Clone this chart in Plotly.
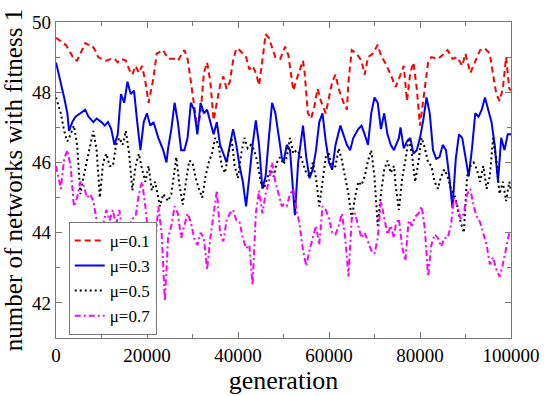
import plotly.graph_objects as go

# ---- data ----
gen_01 = [0, 2140, 2860, 3930, 4640, 5360, 6430, 7140, 7850, 8570, 9280, 10000, 11070, 12140, 12850,
          13570, 14280, 15350, 16070, 16780, 17500, 18210, 18920, 19640, 20350, 21420, 22130, 23560,
          24630, 26070, 26780, 28210, 28920, 29640, 30350, 31070, 31780, 32500, 33210, 33920, 34640,
          35350, 36060, 36780, 37490, 38210, 38920, 39630, 40350, 41060, 41780, 42490, 43200, 43920,
          44630, 45350, 46060, 46780, 47490, 48210, 49270, 50360, 51080, 51790, 52150, 53220, 54290,
          54650, 55360, 56070, 56790, 57500, 58220, 59290, 60000, 60710, 61430, 62140, 63210, 63930,
          64280, 65000, 66070, 67140, 67850, 68570, 69640, 70710, 71420, 72500, 73570, 74640, 75720,
          76430, 77140, 77860, 78570, 79290, 80000, 80710, 81780, 82500, 83930, 85350, 86070, 87140,
          88210, 89280, 89990, 91070, 92140, 93210, 94280, 95350, 96060, 96780, 97490, 98210, 98920,
          99630, 100000]
val_01 = [49.55, 49.35, 49.2, 48.95, 48.9, 49.1, 49.4, 49.35, 49.35, 49.2, 49.0, 48.95, 48.9, 48.95, 48.95,
          48.85, 48.95, 48.9, 48.65, 48.5, 48.75, 48.55, 48.75, 48.3, 47.7, 48.4, 49.1, 49.2,
          48.95, 48.95, 48.9, 49.2, 48.95, 48.3, 47.6, 46.95, 47.4, 48.55, 48.85, 48.3, 47.2,
          47.75, 48.2, 48.45, 48.1, 48.3, 48.9, 49.25, 49.2, 49.1, 49.0, 48.65, 48.75, 48.55,
          48.2, 48.9, 49.65, 49.55, 49.3, 49.0, 48.95, 49.3, 49.05, 48.3, 48.05, 48.5, 48.9,
          48.55, 47.4, 47.25, 47.6, 48.1, 47.75, 47.4, 47.85, 48.3, 48.5, 48.1, 47.7, 47.5,
          48.3, 49.2, 49.1, 48.9, 48.5, 49.0, 49.1, 49.35, 49.05, 48.8, 48.5, 48.15, 48.5,
          48.75, 47.75, 48.55, 48.85, 48.1, 47.05, 47.75, 48.85, 49.0, 48.95, 49.1, 49.2, 48.95,
          49.0, 48.75, 49.1, 48.55, 48.9, 49.2, 49.25, 49.1, 48.5, 47.95, 47.75, 48.1, 49.0,
          48.1, 48.05]

gen_03 = [0, 1070, 1790, 2500, 2860, 3570, 4280, 5360, 6430, 7140, 8210, 8930, 10000, 10710, 11420,
          12140, 12850, 13570, 14280, 14990, 15710, 16420, 17140, 17850, 18560, 19280, 19990, 20710,
          21420, 22490, 23560, 24280, 24640, 25350, 26070, 26780, 27500, 28210, 28920, 29640, 30350,
          31070, 31780, 32500, 33210, 33920, 34640, 35350, 36060, 36780, 37490, 38210, 38920, 39630,
          40350, 41060, 41780, 42490, 43200, 43920, 44630, 45350, 46060, 46780, 47490, 48210, 48920,
          49630, 50000, 50720, 51430, 52500, 53220, 54290, 55000, 55720, 56430, 57150, 57860, 58570,
          59290, 60000, 60710, 61430, 62500, 63210, 63930, 64640, 65350, 66430, 67140, 67850, 68570,
          69280, 70000, 70710, 71420, 72140, 72850, 73570, 74280, 75360, 75720, 76430, 77140, 77860,
          78570, 79290, 80000, 80710, 81430, 82140, 82860, 83570, 84280, 85000, 85710, 86430, 87140,
          87860, 88570, 89280, 90000, 90710, 91430, 92140, 92850, 93570, 94280, 95000, 95710, 96420,
          97140, 97850, 98570, 99280, 100000]
val_03 = [48.85, 48.3, 47.85, 47.4, 46.9, 47.15, 47.3, 47.4, 47.5, 47.3, 47.15, 47.25, 47.15, 47.05, 47.15,
          46.95, 46.5, 46.8, 47.95, 47.7, 48.3, 47.95, 48.05, 47.15, 46.35, 47.15, 47.4, 47.05,
          47.15, 46.7, 46.35, 46.0, 46.4, 46.95, 47.7, 47.15, 46.35, 46.35, 46.7, 47.7, 47.5,
          46.8, 47.7, 47.4, 47.5, 47.15, 46.8, 47.15, 46.5, 46.25, 46.0, 46.5, 46.95, 46.5,
          45.9, 45.45, 44.75, 45.6, 46.5, 47.2, 46.5, 45.25, 45.6, 46.7, 47.7, 47.4, 46.7,
          46.15, 46.0, 46.5, 46.35, 44.5, 46.0, 47.05, 46.15, 45.55, 45.8, 46.35, 47.15, 47.4,
          46.6, 46.0, 45.8, 46.5, 47.05, 46.8, 46.5, 46.35, 46.7, 46.95, 47.05, 46.8, 46.5,
          47.4, 47.85, 47.7, 46.95, 47.4, 46.8, 46.5, 46.35, 46.7, 47.0, 46.4, 46.6, 46.7,
          46.25, 46.35, 46.7, 47.2, 47.85, 47.4, 46.35, 46.1, 46.15, 46.5, 46.35, 45.6, 44.7,
          46.1, 46.8, 46.7, 46.15, 45.6, 46.4, 47.4, 47.3, 47.5, 47.85, 47.5, 47.15, 46.5,
          45.45, 46.7, 46.35, 46.8, 46.8]

gen_05 = [0, 1070, 1790, 2500, 3210, 3930, 4640, 5360, 6070, 6780, 7500, 8210, 8930, 9640, 10350,
          11070, 11780, 12500, 13210, 13920, 14640, 15350, 16070, 16780, 17490, 18210, 18920, 19640,
          20350, 21060, 21780, 22850, 23560, 24630, 25350, 26070, 26430, 27140, 27850, 28570, 29280,
          29990, 30710, 31420, 32140, 32850, 33570, 34280, 35000, 35710, 36420, 37140, 37850, 38570,
          39280, 39990, 40710, 41420, 42130, 42850, 43560, 44280, 44990, 45700, 46420, 47130, 47850,
          48560, 49270, 50000, 50720, 51430, 52150, 52860, 53570, 54290, 55000, 55720, 56430, 57150,
          57860, 58570, 59290, 60000, 60710, 61430, 62140, 62850, 63570, 64280, 65000, 65710, 66430,
          67140, 67850, 68570, 69280, 69990, 70710, 71420, 72140, 72850, 73570, 74280, 74640, 75360,
          76070, 76790, 77500, 78210, 78930, 79640, 80360, 81070, 81780, 82500, 83210, 83930, 84640,
          85350, 86070, 86780, 87500, 88210, 88930, 89640, 90350, 91070, 91780, 92500, 93210, 93930,
          94640, 95350, 96060, 96780, 97490, 98210, 98920, 99630, 100000]
val_05 = [47.85, 47.4, 46.9, 46.6, 46.8, 47.05, 46.5, 45.1, 45.6, 46.0, 46.5, 46.9, 46.35, 45.0, 46.0,
          46.25, 45.9, 45.9, 46.5, 46.7, 46.5, 46.9, 46.25, 45.2, 45.9, 46.25, 45.8, 45.45,
          45.9, 45.2, 45.45, 44.75, 45.1, 44.9, 45.1, 45.8, 46.15, 45.35, 44.8, 45.45, 46.05,
          46.0, 45.55, 45.25, 45.0, 45.6, 46.0, 46.25, 46.7, 46.5, 45.9, 45.7, 46.15, 46.7,
          45.9, 45.55, 46.25, 46.7, 46.4, 46.5, 46.35, 46.0, 45.45, 45.25, 45.55, 45.8, 45.6,
          46.0, 46.15, 45.95, 46.15, 46.7, 46.25, 46.35, 46.25, 46.0, 45.7, 45.6, 46.0, 45.55,
          44.75, 45.45, 46.15, 46.25, 45.8, 45.9, 46.4, 46.05, 45.6, 45.1, 44.4, 45.0, 45.45,
          45.35, 45.6, 46.05, 46.35, 45.6, 44.2, 45.1, 45.8, 46.05, 45.7, 45.9, 45.35, 44.65,
          45.55, 46.05, 46.7, 46.25, 45.45, 46.0, 46.7, 46.4, 46.0, 45.9, 45.45, 45.25, 45.6,
          45.8, 45.6, 45.25, 45.1, 44.75, 44.3, 44.0, 45.6, 45.9, 46.0, 45.8, 45.45, 45.9,
          45.25, 45.6, 46.7, 46.05, 45.1, 45.45, 44.9, 45.45, 45.2]

gen_07 = [0, 1070, 1790, 2500, 3210, 3930, 4640, 5360, 6070, 6780, 7500, 8210, 8930, 9640, 10350,
          11070, 11780, 12500, 13210, 13920, 14640, 15350, 16070, 16780, 17490, 18210, 18920, 19640,
          20350, 21060, 21780, 22490, 23210, 23920, 24630, 25350, 26070, 26780, 27500, 28210, 28920,
          29640, 30350, 31070, 31780, 32500, 33210, 33920, 34640, 35350, 36060, 36780, 37490, 38210,
          38920, 39630, 40350, 41060, 41780, 42490, 43200, 43920, 44630, 45350, 46060, 46780, 47490,
          48210, 48920, 49630, 50000, 50720, 51430, 52150, 52860, 53570, 54290, 55000, 55720, 56430,
          57150, 57860, 58570, 59290, 60000, 60710, 61430, 62140, 62850, 63570, 64280, 65000, 65710,
          66430, 67140, 67850, 68570, 69280, 70000, 70710, 71420, 72140, 72850, 73570, 74280, 74640,
          75360, 76070, 76790, 77500, 78210, 78930, 79640, 80360, 81070, 81780, 82500, 83210, 83930,
          84640, 85350, 86070, 86780, 87500, 88210, 88930, 89640, 90350, 91070, 91780, 92500, 93210,
          93930, 94640, 95350, 96060, 96780, 97490, 98210, 98920, 99630, 100000]
val_07 = [45.9, 45.25, 46.1, 46.35, 45.9, 44.75, 45.0, 45.45, 45.35, 45.0, 45.1, 44.9, 44.35, 43.85, 44.2,
          44.65, 44.35, 44.65, 44.2, 44.65, 44.0, 43.85, 44.2, 44.4, 44.45, 45.1, 45.45, 44.75,
          43.85, 44.3, 43.65, 44.75, 44.0, 42.05, 43.85, 44.2, 44.75, 44.55, 43.85, 44.2, 44.55,
          44.3, 43.85, 43.65, 44.0, 43.85, 42.95, 43.85, 44.55, 45.2, 44.0, 43.75, 44.35, 44.55,
          44.65, 44.35, 44.3, 43.85, 43.55, 43.65, 42.5, 44.55, 45.2, 44.55, 45.1, 45.45, 46.0,
          45.45, 45.1, 44.75, 44.8, 44.75, 45.1, 45.25, 44.65, 44.2, 43.5, 43.05, 43.5, 43.85,
          44.2, 43.65, 44.75, 44.65, 44.4, 44.0, 43.95, 44.2, 44.55, 43.85, 42.75, 44.4, 44.55,
          44.2, 43.85, 44.0, 43.75, 43.5, 43.4, 43.85, 44.9, 44.4, 43.95, 44.2, 43.85, 44.2,
          44.4, 43.6, 43.2, 44.35, 44.2, 44.45, 44.55, 44.75, 44.1, 42.75, 43.65, 43.95, 43.85,
          43.6, 43.85, 43.85, 44.2, 45.0, 44.75, 44.4, 44.55, 45.1, 45.25, 44.75, 44.45, 44.3,
          43.95, 43.65, 43.1, 43.3, 42.95, 42.75, 43.1, 43.55, 44.0, 44.05]

series_names = ["μ=0.1", "μ=0.3", "μ=0.5", "μ=0.7"]
x_tick_vals = [0, 20000, 40000, 60000, 80000, 100000]
y_tick_vals = [42, 44, 46, 48, 50]

FONT = "Liberation Serif"

fig = go.Figure()
styles = [
    (gen_01, val_01, "#ff0000", "6px,4px"),
    (gen_03, val_03, "#0000ff", "solid"),
    (gen_05, val_05, "#000000", "2px,3px"),
    (gen_07, val_07, "#ff00ff", "6px,3px,2px,3px"),
]
for (gx, gy, col, dash), name in zip(styles, series_names):
    fig.add_trace(go.Scatter(x=gx, y=gy, mode="lines", name=name,
                             line=dict(color=col, width=2, dash=dash)))

axis_common = dict(showline=True, linecolor="#777", linewidth=1.2, mirror="allticks",
                   ticks="inside", ticklen=6, tickcolor="#777", showgrid=False, zeroline=False,
                   tickfont=dict(family=FONT, size=19, color="black"))

fig.update_xaxes(range=[0, 100000], tickvals=x_tick_vals,
                 ticktext=[str(v) for v in x_tick_vals],
                 minor=dict(ticks="inside", ticklen=4, tickcolor="#777", dtick=10000, tick0=0),
                 title=dict(text="generation", font=dict(family=FONT, size=26, color="black"),
                            standoff=0),
                 **axis_common)
fig.update_yaxes(range=[41, 50], tickvals=y_tick_vals,
                 minor=dict(ticks="inside", ticklen=4, tickcolor="#777", dtick=1, tick0=41),
                 title=dict(text="number of networks with fitness 1",
                            font=dict(family=FONT, size=25, color="black"), standoff=3),
                 **axis_common)

fig.update_layout(
    width=552, height=396,
    margin=dict(l=56, r=30, t=13, b=47),
    paper_bgcolor="white", plot_bgcolor="white",
    showlegend=True,
    legend=dict(x=0.028, y=0.01, xanchor="left", yanchor="bottom",
                bgcolor="white", bordercolor="#777", borderwidth=1,
                font=dict(family=FONT, size=17, color="black"),
                tracegroupgap=0, itemwidth=30),
)

fig.write_html("out.html")
